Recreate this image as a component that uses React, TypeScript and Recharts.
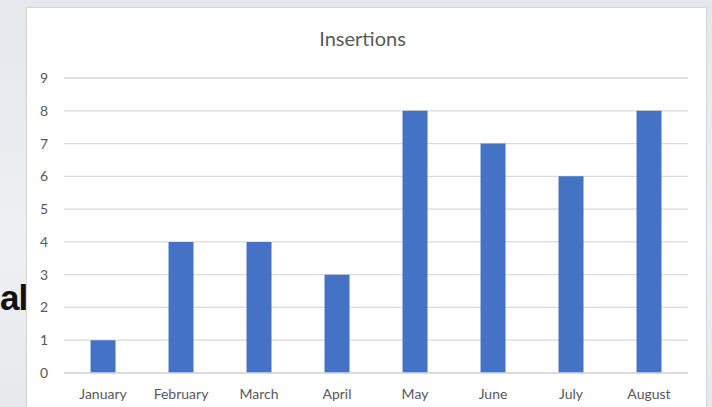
import React from 'react';
import { BarChart, Bar, XAxis, YAxis, CartesianGrid } from 'recharts';

const months = ['January', 'February', 'March', 'April', 'May', 'June', 'July', 'August'];
const insertions = [1, 4, 4, 3, 8, 7, 6, 8];
const yTicks = [0, 1, 2, 3, 4, 5, 6, 7, 8, 9];

const data = months.map((m, i) => ({ month: m, value: insertions[i] }));

const FONT = 'Lato, "Open Sans", sans-serif';
const TEXT = '#595959';

const App: React.FC = () => {
  return (
    <div
      style={{
        position: 'fixed',
        left: 0,
        top: 0,
        width: 712,
        height: 407,
        overflow: 'hidden',
        background: 'linear-gradient(180deg, #e4e7ec 0%, #eef0f3 60%, #e6e8ec 100%)',
        fontFamily: FONT,
      }}
    >
      {/* stray slide text behind the chart */}
      <div
        style={{
          position: 'absolute',
          left: 0,
          top: 277,
          fontSize: 35,
          fontWeight: 700,
          color: '#111',
          fontFamily: '"Liberation Sans Narrow", "Liberation Sans", sans-serif',
          lineHeight: '42px',
          letterSpacing: -1,
        }}
      >
        al
      </div>

      {/* chart panel */}
      <div
        style={{
          position: 'absolute',
          left: 26,
          top: 7,
          width: 681,
          height: 410,
          background: '#ffffff',
          border: '1px solid #d0d3d8',
          boxSizing: 'border-box',
        }}
      >
        <div
          style={{
            position: 'absolute',
            left: 0,
            width: '100%',
            top: 18,
            textAlign: 'center',
            fontSize: 20,
            color: TEXT,
            transform: 'translateX(-4px)',
          }}
        >
          Insertions
        </div>
        <BarChart
          width={681}
          height={400}
          data={data}
          margin={{ top: 70, right: 20, bottom: 5, left: 0 }}
          barCategoryGap="34%"
        >
          <CartesianGrid horizontal vertical={false} stroke="#d9d9d9" strokeWidth={1.3} />
          <XAxis
            dataKey="month"
            axisLine={{ stroke: '#d9d9d9', strokeWidth: 1.3 }}
            tickLine={false}
            tickMargin={10}
            height={30}
            interval={0}
            tick={{ fill: TEXT, fontSize: 14, fontFamily: FONT }}
          />
          <YAxis
            domain={[0, 9]}
            ticks={yTicks}
            width={37}
            axisLine={false}
            tickLine={false}
            tickMargin={10}
            interval={0}
            tick={{ fill: TEXT, fontSize: 14, fontFamily: FONT }}
          />
          <Bar dataKey="value" fill="#4472c4" isAnimationActive={false} />
        </BarChart>
      </div>
    </div>
  );
};

export default App;
